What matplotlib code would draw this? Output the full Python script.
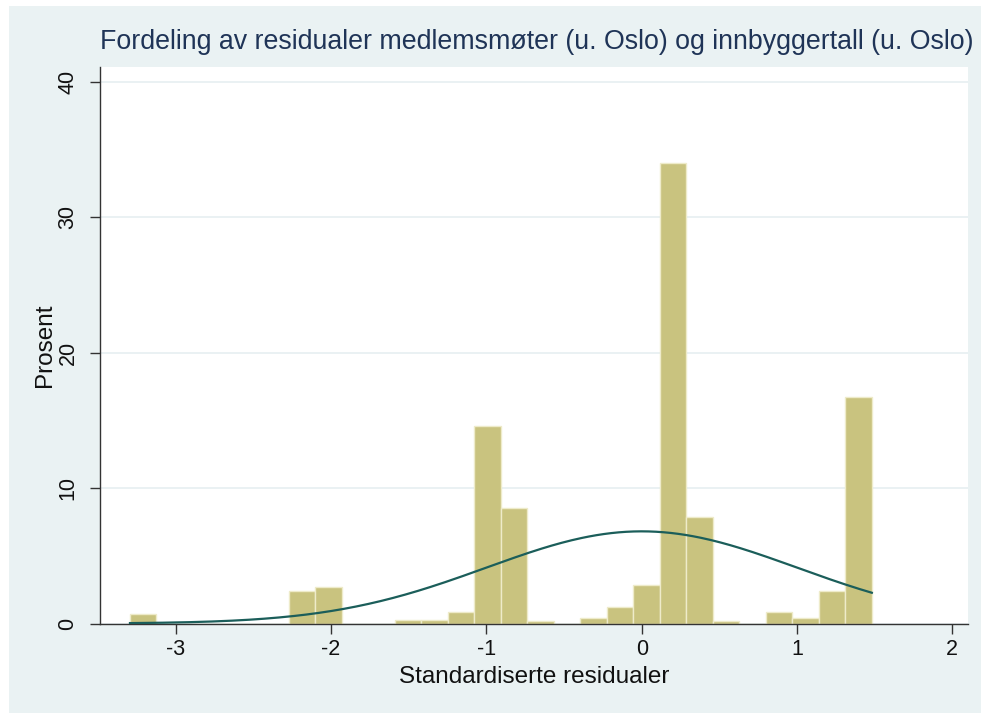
import numpy as np
import matplotlib
matplotlib.use("Agg")
import matplotlib.pyplot as plt
from matplotlib.patches import Rectangle

plt.rcParams['font.family'] = ['Liberation Sans', 'DejaVu Sans']

# histogram of standardized residuals (percent per bin)
bin_start = -3.295
bin_width = 0.1706
percent = [0.68, 0, 0, 0, 0, 0, 2.42, 2.7, 0, 0,
           0.26, 0.26, 0.87, 14.6, 8.5, 0.2, 0, 0.38, 1.2, 2.85,
           34.0, 7.85, 0.2, 0, 0.87, 0.38, 2.4, 16.75]

# normal curve parameters (standardized residuals)
norm_mean = 0.0
norm_sd = 1.0

title = "Fordeling av residualer medlemsmøter (u. Oslo) og innbyggertall (u. Oslo)"
xlabel = "Standardiserte residualer"
ylabel = "Prosent"
xticks = [-3, -2, -1, 0, 1, 2]
yticks = [0, 10, 20, 30, 40]

W, H = 981, 713
fig = plt.figure(figsize=(W / 100, H / 100), dpi=100)
fig.patch.set_facecolor("white")
# stata-like graph region
fig.add_artist(Rectangle((9 / W, 0), 1 - 9 / W, (H - 6) / H,
                         transform=fig.transFigure, facecolor="#eaf2f3",
                         edgecolor="none", zorder=0))

ax_bottom, ax_top = 623.5, 67
ax = fig.add_axes([100 / W, (H - ax_bottom) / H, 868 / W, (ax_bottom - ax_top) / H])
ax.set_facecolor("white")

left_edges = bin_start + bin_width * np.arange(len(percent))
ax.bar(left_edges, percent, width=bin_width, align="edge",
       color="#c9c37f", edgecolor="#eeebca", linewidth=1.0, zorder=2)

# normal density scaled to percent per bin
xs = np.linspace(bin_start, bin_start + bin_width * len(percent), 300)
dens = np.exp(-0.5 * ((xs - norm_mean) / norm_sd) ** 2) / (norm_sd * np.sqrt(2 * np.pi))
ax.plot(xs, dens * bin_width * 100, color="#1b5e5a", lw=1.6, zorder=3)

ax.set_xlim(-3.488, 2.101)
ax.set_ylim(0, 41.1)
ax.set_xticks(xticks)
ax.set_xticklabels([str(t) for t in xticks])
ax.set_yticks(yticks)
ax.set_yticklabels([str(t) for t in yticks], rotation=90, va="center")
ax.yaxis.grid(True, color="#e6eff1", lw=1.2, zorder=0)
ax.set_axisbelow(True)

for s in ["top", "right"]:
    ax.spines[s].set_visible(False)
for s in ["left", "bottom"]:
    ax.spines[s].set_color("#333333")
    ax.spines[s].set_linewidth(1.0)
ax.tick_params(axis="both", direction="out", length=7.5, width=1.0,
               color="#333333", labelsize=15.5, labelcolor="#111111")
ax.tick_params(axis="x", pad=4)
ax.tick_params(axis="y", pad=8)

ax.set_xlabel(xlabel, fontsize=17.5, color="#111111", va="center")
ax.xaxis.set_label_coords(0.5, (ax_bottom - 677) / (ax_bottom - ax_top))
ax.set_ylabel(ylabel, fontsize=17.5, color="#111111", va="center")
ax.yaxis.set_label_coords((45 - 100) / 868, (ax_bottom - 345) / (ax_bottom - ax_top))

fig.text(537 / W, (H - 42) / H, title, ha="center", va="center",
         fontsize=19.3, color="#1f3457")

fig.savefig("out.png", dpi=100, facecolor=fig.get_facecolor())
